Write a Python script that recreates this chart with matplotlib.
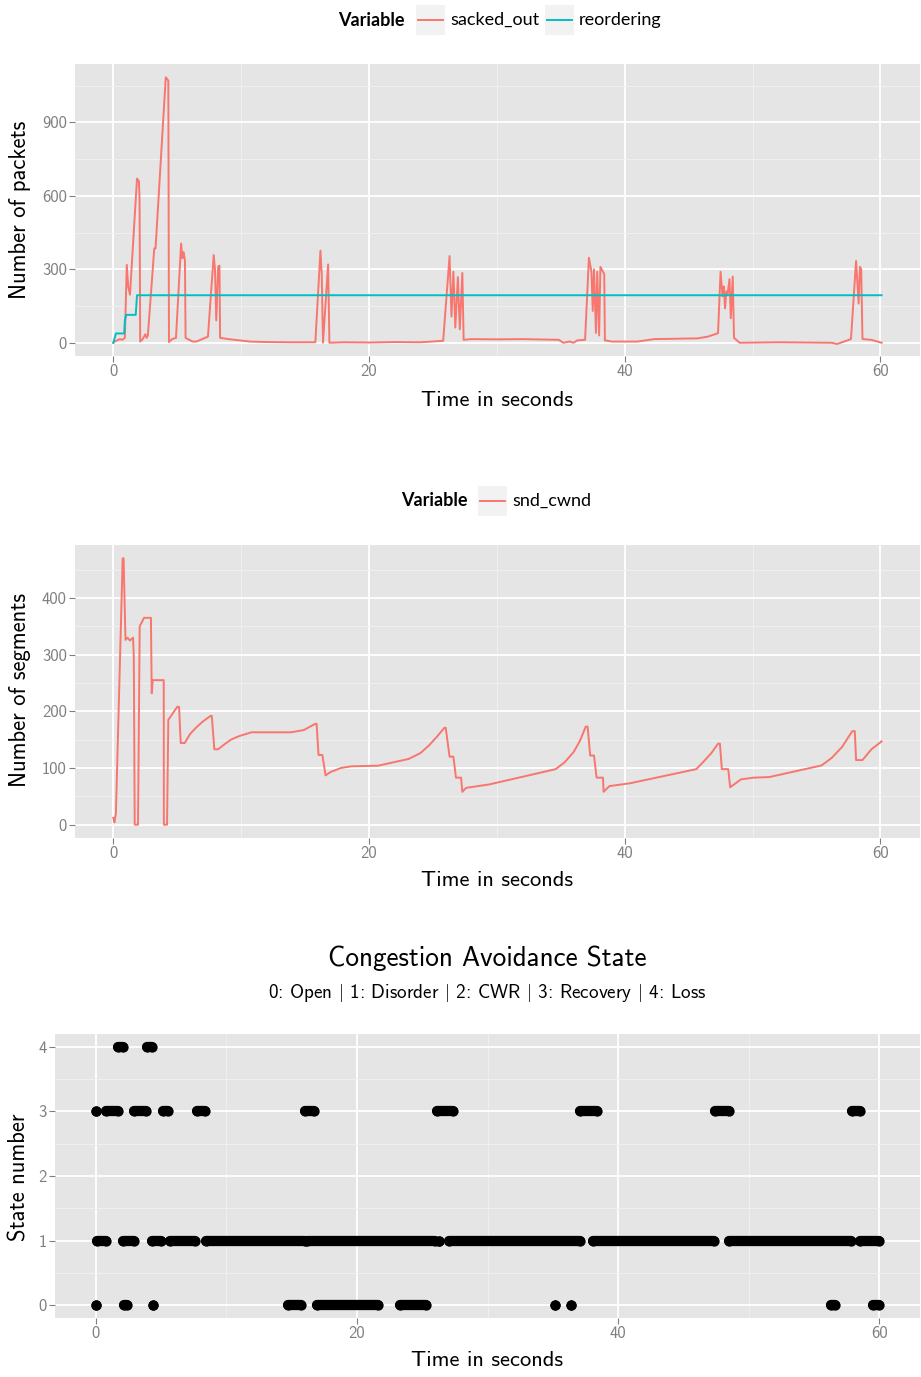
import numpy as np
import matplotlib
matplotlib.use("Agg")
import matplotlib.pyplot as plt
from matplotlib.patches import Rectangle

plt.rcParams["mathtext.fontset"] = "cm"

# DATA
sacked_t = [0, 0.1, 0.3, 0.5, 0.7, 0.9, 1.05, 1.16, 1.3, 1.85, 2.0, 2.05, 2.1, 2.3, 2.5, 2.6,
            2.7, 3.2, 3.3, 4.1, 4.3, 4.35, 4.6, 4.9, 5.3, 5.4, 5.5, 5.6, 5.65, 6.2, 6.5, 7.4,
            7.85, 7.95, 8.05, 8.2, 8.3, 8.35, 9.0, 10.7, 12.0, 14.0, 15.8, 16.2, 16.3, 16.4,
            16.8, 16.9, 18.0, 20.0, 22.0, 24.0, 25.8, 26.3, 26.45, 26.6, 26.75, 26.95, 27.1,
            27.3, 27.4, 28.0, 30.0, 32.0, 34.85, 35.2, 35.7, 36.0, 36.3, 36.9, 37.2, 37.4, 37.5,
            37.6, 37.75, 37.85, 38.0, 38.1, 38.4, 38.45, 39.0, 41.0, 42.3, 45.7, 46.5, 47.3,
            47.5, 47.65, 47.75, 47.85, 47.95, 48.05, 48.2, 48.3, 48.45, 48.55, 49.0, 52.0,
            56.2, 56.6, 57.0, 57.7, 58.1, 58.3, 58.4, 58.5, 58.6, 59.3, 60.1]
sacked_v = [0, 5, 10, 15, 12, 20, 318, 230, 196, 670, 660, 580, 5, 15, 35, 20,
            30, 385, 385, 1084, 1070, 3, 15, 20, 405, 345, 370, 335, 20, 5, 5, 25,
            358, 300, 91, 310, 315, 20, 15, 5, 3, 2, 2, 376, 280, 0,
            320, 0, 2, 1, 3, 2, 8, 354, 107, 290, 62, 268, 55,
            285, 12, 15, 14, 15, 12, 0, 5, 0, 10, 12, 347, 290, 130,
            300, 40, 290, 30, 310, 280, 10, 5, 5, 15, 18, 25, 39,
            290, 190, 230, 140, 210, 200, 260, 100, 270, 20, 0, 2,
            0, -5, 2, 15, 334, 160, 310, 300, 15, 12, 0]

reorder_t = [0, 0.2, 0.85, 0.9, 1.0, 1.75, 1.85, 60.1]
reorder_v = [0, 38, 38, 90, 114, 114, 194, 194]

cwnd_t = [0, 0.08, 0.2, 0.73, 0.8, 0.95, 1.1, 1.3, 1.54, 1.6, 1.67, 1.93, 2.06, 2.4, 2.94,
          3.0, 3.08, 3.94, 3.95, 4.2, 4.3, 5.0, 5.14, 5.27, 5.58, 6.0, 6.5, 7.0, 7.6, 7.7,
          7.9, 8.2, 8.7, 9.2, 9.8, 10.8, 13.9, 14.9, 15.8, 15.9, 16.05, 16.35, 16.6, 17.0,
          17.8, 18.6, 20.7, 23.1, 24.0, 24.7, 25.3, 25.9, 26.0, 26.3, 26.6, 26.8, 27.2,
          27.3, 27.6, 29.4, 34.6, 35.3, 36.0, 36.5, 36.95, 37.1, 37.3, 37.6, 37.8, 38.3,
          38.35, 38.8, 40.4, 45.6, 46.2, 46.8, 47.3, 47.45, 47.6, 48.1, 48.25, 49.1, 50.1,
          51.3, 55.4, 56.2, 57.0, 57.8, 58.0, 58.1, 58.6, 59.3, 60.1]
cwnd_v = [12, 4, 20, 470, 470, 326, 330, 325, 330, 296, 0, 0, 350, 365, 365,
          232, 255, 255, 0, 0, 185, 208, 208, 144, 144, 160, 172, 182, 192, 192,
          133, 133, 142, 150, 156, 163, 163, 167, 178, 178, 123, 123, 87, 93,
          100, 103, 104, 116, 126, 140, 155, 171, 171, 120, 120, 83, 83,
          58, 65, 71, 98, 110, 128, 148, 173, 173, 122, 122, 83, 83,
          58, 68, 73, 98, 112, 127, 143, 143, 98, 98, 66, 80, 83,
          84, 104.5, 118, 137, 165, 165, 114, 114, 133, 147]

# state runs (start, end) in seconds
state_runs = {
    0: [(0, 0), (2.17, 2.4), (4.4, 4.4), (14.74, 15.76), (16.93, 21.6), (23.27, 25.26),
        (35.2, 35.2), (36.4, 36.4), (56.27, 56.63), (59.5, 60.0)],
    1: [(0.08, 0.79), (2.12, 2.91), (4.34, 5.0), (5.67, 7.64), (8.48, 16.0), (16.2, 25.95),
        (26.25, 26.25), (27.05, 37.1), (38.05, 47.35), (48.45, 57.8), (58.5, 60.0)],
    3: [(0, 0), (0.84, 1.7), (2.93, 3.85), (5.16, 5.57), (7.74, 8.4), (16.04, 16.73),
        (26.1, 27.36), (37.1, 38.4), (47.4, 48.45), (57.9, 58.5)],
    4: [(1.74, 2.09), (3.96, 4.31)],
}

RED = "#F8766D"
CYAN = "#00BFC4"
BG = "#E5E5E5"
W, H = 921, 1377
TXT = "cmss10"

fig = plt.figure(figsize=(W / 100, H / 100), dpi=100)


def make_ax(l, t, r, b):
    ax = fig.add_axes([l / W, 1 - b / H, (r - l) / W, (b - t) / H])
    ax.set_facecolor(BG)
    for s in ax.spines.values():
        s.set_visible(False)
    ax.set_axisbelow(True)
    ax.grid(which="major", color="white", lw=1.3)
    ax.grid(which="minor", color="#F2F2F2", lw=0.6)
    ax.tick_params(which="major", direction="out", length=4, width=0.8,
                   color="#7F7F7F", labelcolor="#7F7F7F", labelsize=12, pad=2)
    ax.tick_params(which="minor", length=0)
    return ax


def set_ticks(ax, xt, yt, xlim, ylim):
    ax.set_xticks(xt, [str(v) for v in xt], fontfamily=TXT)
    ax.set_yticks(yt, [str(v) for v in yt], fontfamily=TXT)
    ax.set_xticks([10, 30, 50], minor=True)
    step = yt[1] - yt[0]
    ax.set_yticks([v + step / 2 for v in yt if v + step / 2 < ylim[1]], minor=True)
    ax.set_xlim(*xlim)
    ax.set_ylim(*ylim)


# PANEL 1
ax1 = make_ax(75, 64, 920, 356)
ax1.plot(sacked_t, sacked_v, color=RED, lw=1.4)
ax1.plot(reorder_t, reorder_v, color=CYAN, lw=1.4)
set_ticks(ax1, [0, 20, 40, 60], [0, 300, 600, 900], (-3.0, 63.1), (-54, 1138))

# PANEL 2
ax2 = make_ax(75, 545, 920, 838)
ax2.plot(cwnd_t, cwnd_v, color=RED, lw=1.4)
set_ticks(ax2, [0, 20, 40, 60], [0, 100, 200, 300, 400], (-3.0, 63.1), (-23.5, 493.5))

# PANEL 3
ax3 = make_ax(55, 1034, 920, 1318)
for state, runs in state_runs.items():
    for a, b in runs:
        ax3.plot([a, b], [state, state], color="black", lw=7.4,
                 solid_capstyle="round", marker="o", ms=7.4, mew=0)
set_ticks(ax3, [0, 20, 40, 60], [0, 1, 2, 3, 4], (-3.1, 63.1), (-0.2, 4.2))

# overlay for texts and legends (pixel coords)
ov = fig.add_axes([0, 0, 1, 1], facecolor="none")
ov.set_xlim(0, W)
ov.set_ylim(H, 0)
ov.axis("off")

for cy in (400, 880):
    ov.text(497, cy, "Time in seconds", family=TXT, fontsize=16.2, ha="center", va="center")
ov.text(487, 1361, "Time in seconds", family=TXT, fontsize=16.2, ha="center", va="center")
ov.text(20, 210, "Number of packets", family=TXT, fontsize=16.3, rotation=90, ha="center", va="center")
ov.text(20, 690, "Number of segments", family=TXT, fontsize=16.3, rotation=90, ha="center", va="center")
ov.text(20, 1177, "State number", family=TXT, fontsize=16.3, rotation=90, ha="center", va="center")

ov.text(487, 958, "Congestion Avoidance State", family=TXT, fontsize=19.6, ha="center", va="center")
ov.text(487, 993, r"0: Open $|$ 1: Disorder $|$ 2: CWR $|$ 3: Recovery $|$ 4: Loss", family=TXT,
        fontsize=13.8, ha="center", va="center")


def legend_key(x, y, color, label):
    ov.add_patch(Rectangle((x, y - 15), 29, 30, facecolor="#F2F2F2", edgecolor="none"))
    ov.plot([x + 2, x + 27], [y, y], color=color, lw=1.4)
    ov.text(x + 34, y, label, family="Lato", fontsize=13, ha="left", va="center")


ov.text(338, 20, "Variable", family="Lato", fontweight="bold", fontsize=13, ha="left", va="center")
legend_key(416, 20, RED, "sacked_out")
legend_key(545, 20, CYAN, "reordering")

ov.text(401, 501, "Variable", family="Lato", fontweight="bold", fontsize=13, ha="left", va="center")
legend_key(478, 501, RED, "snd_cwnd")

fig.savefig("out.png", dpi=100)
